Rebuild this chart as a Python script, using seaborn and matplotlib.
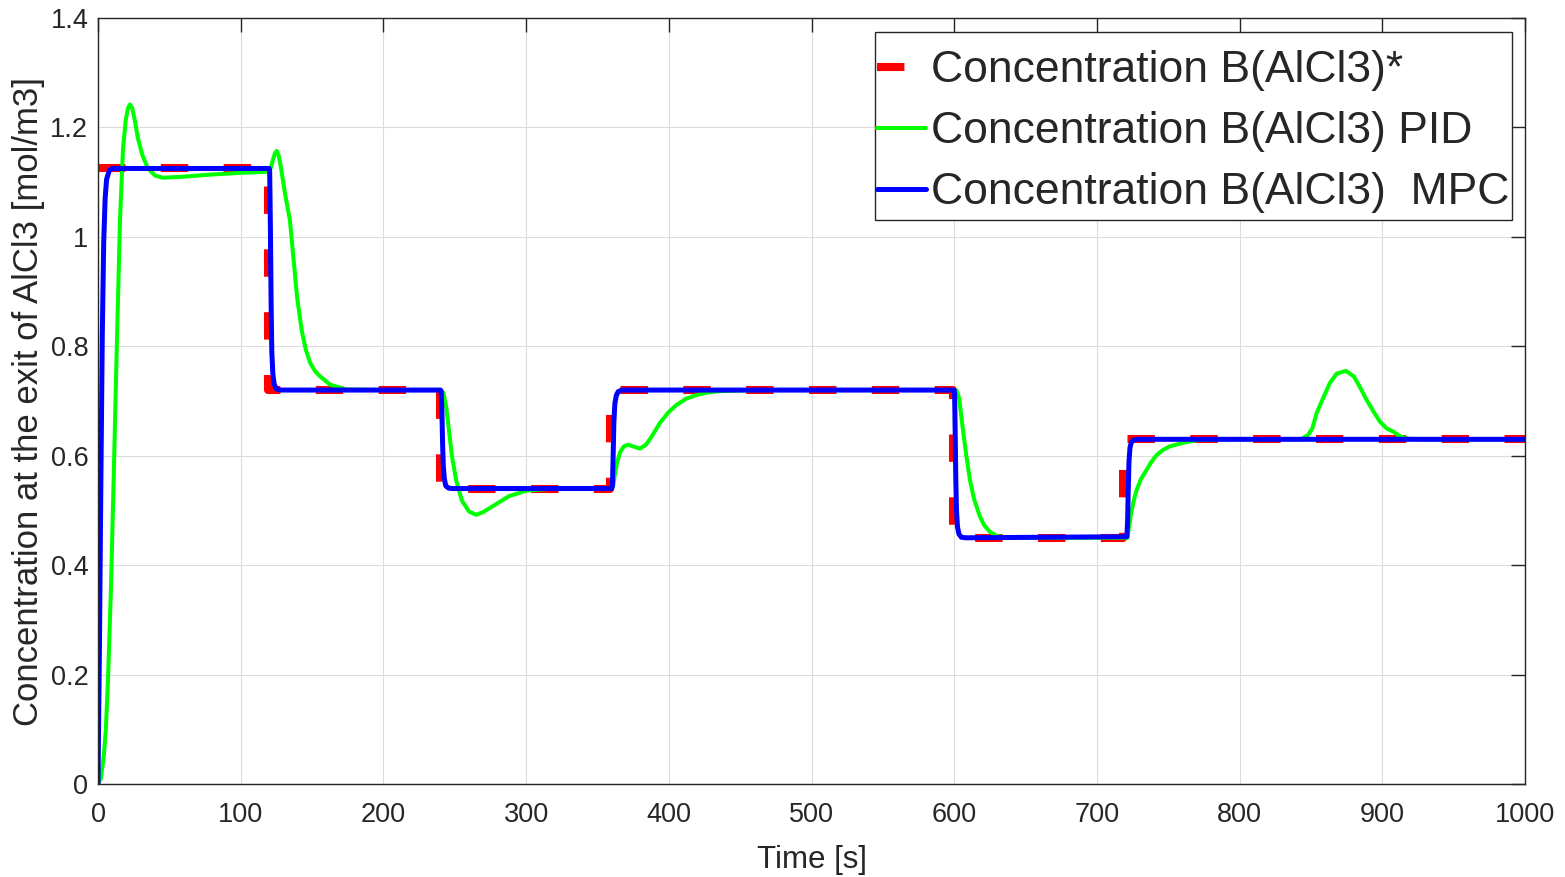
import matplotlib
matplotlib.use("Agg")
import matplotlib.pyplot as plt
from matplotlib.patches import Rectangle
import seaborn as sns
import pandas as pd

# setpoint (reference) concentration, step changes
sp_t = [0, 119, 239.5, 359, 599.5, 718.5, 1000]
sp_y = [1.125, 0.72, 0.54, 0.72, 0.45, 0.63, 0.63]

# PID response
pid_t = [0, 2, 4, 5.5, 7, 9, 11, 13, 15.4, 17.5, 19.5, 21, 22.4, 24, 26, 28, 31, 35, 40, 45.5, 60, 80, 100, 119,
         121, 122.5, 124, 125.2, 126.5, 128, 131, 134.5, 137, 139.5, 142.7, 145.5, 148.6, 152, 155.6, 162.6, 174, 200, 240,
         242, 244, 246, 248, 251, 255, 260, 265, 270, 278, 288, 300, 320, 360,
         361, 362.5, 364, 366, 368.5, 371.4, 375, 379.8, 384, 388, 393.8, 400, 405.5, 412, 419.5, 428, 436, 460, 601.5,
         603.5, 606, 608.5, 611, 614, 618, 621, 625, 630, 640, 721.5,
         722.5, 724, 725.8, 727.8, 731, 734.8, 738, 741.8, 746, 751, 758, 765, 772, 790, 843,
         848, 851, 854, 858.5, 863.3, 868, 874.5, 880, 884, 889, 894, 898.4, 903, 907.7, 912, 918, 930, 1000]
pid_y = [0, 0.01, 0.05, 0.1, 0.19, 0.35, 0.56, 0.78, 1.03, 1.16, 1.215, 1.235, 1.242, 1.235, 1.21, 1.18, 1.15, 1.125, 1.112, 1.108, 1.11, 1.114, 1.117, 1.119,
         1.125, 1.14, 1.153, 1.157, 1.15, 1.13, 1.08, 1.03, 0.96, 0.89, 0.83, 0.795, 0.77, 0.755, 0.745, 0.73, 0.721, 0.72, 0.72,
         0.715, 0.69, 0.645, 0.6, 0.555, 0.518, 0.498, 0.492, 0.497, 0.51, 0.526, 0.536, 0.54, 0.54,
         0.545, 0.57, 0.59, 0.607, 0.617, 0.62, 0.617, 0.613, 0.62, 0.635, 0.66, 0.68, 0.693, 0.704, 0.711, 0.716, 0.718, 0.72, 0.72,
         0.705, 0.65, 0.6, 0.556, 0.52, 0.489, 0.473, 0.461, 0.453, 0.45, 0.45,
         0.47, 0.495, 0.518, 0.537, 0.558, 0.574, 0.588, 0.601, 0.61, 0.617, 0.622, 0.626, 0.629, 0.63, 0.63,
         0.638, 0.65, 0.678, 0.705, 0.733, 0.75, 0.755, 0.745, 0.727, 0.702, 0.68, 0.662, 0.65, 0.644, 0.636, 0.631, 0.63, 0.63]

# MPC response
mpc_t = [0, 1, 2, 3, 4, 5, 6, 8, 10, 120,
         120.3, 120.8, 121.3, 121.8, 122.5, 123.5, 125, 128, 240,
         240.5, 241, 241.5, 242, 242.7, 243.7, 245.5, 248, 360,
         360.5, 361, 361.5, 362.2, 363.2, 364.5, 367, 600,
         600.3, 600.7, 601.1, 601.6, 602.3, 603.3, 605, 608, 721,
         721.5, 722, 722.5, 723.2, 724.2, 726, 729, 1000]
mpc_y = [0, 0.25, 0.55, 0.82, 0.99, 1.07, 1.105, 1.122, 1.125, 1.125,
         1.12, 1.02, 0.88, 0.79, 0.75, 0.73, 0.722, 0.72, 0.72,
         0.718, 0.68, 0.62, 0.58, 0.558, 0.545, 0.541, 0.54, 0.54,
         0.545, 0.6, 0.66, 0.695, 0.71, 0.717, 0.72, 0.72,
         0.71, 0.64, 0.56, 0.5, 0.47, 0.457, 0.451, 0.45, 0.452,
         0.48, 0.54, 0.59, 0.615, 0.625, 0.629, 0.63, 0.63]

labels = ["Concentration B(AlCl3)*", "Concentration B(AlCl3) PID", "Concentration B(AlCl3)  MPC"]

sns.set_theme(style="whitegrid")
plt.rcParams["font.family"] = ["Liberation Sans", "DejaVu Sans"]

W, H = 1565, 877
fig = plt.figure(figsize=(W / 100, H / 100), dpi=100)
ax = fig.add_axes([98 / W, 1 - 784 / H, (1525 - 98) / W, (784 - 18) / H])

sp_df = pd.DataFrame({"t": sp_t, "c": sp_y})
pid_df = pd.DataFrame({"t": pid_t, "c": pid_y})
mpc_df = pd.DataFrame({"t": mpc_t, "c": mpc_y})

sns.lineplot(data=sp_df, x="t", y="c", color="#ff0000", linewidth=5.8, estimator=None, sort=False,
             drawstyle="steps-post", label=labels[0], ax=ax)
ax.lines[-1].set_dashes((3.4, 4.4))
sns.lineplot(data=pid_df, x="t", y="c", color="#00ff00", linewidth=2.9, estimator=None, sort=False,
             label=labels[1], ax=ax)
sns.lineplot(data=mpc_df, x="t", y="c", color="#0000ff", linewidth=3.6, estimator=None, sort=False,
             label=labels[2], ax=ax)

ax.set_xlim(0, 1000)
ax.set_ylim(0, 1.4)
ax.set_xticks(range(0, 1001, 100))
ax.set_yticks([0, 0.2, 0.4, 0.6, 0.8, 1, 1.2, 1.4])
ax.set_yticklabels(["0", "0.2", "0.4", "0.6", "0.8", "1", "1.2", "1.4"])

ax.grid(True, color="#dcdcdc", linewidth=0.8)
for s in ax.spines.values():
    s.set_color("#262626")
    s.set_linewidth(1.0)
    s.set_visible(True)
ax.tick_params(axis="both", which="both", direction="in", length=10, width=1, color="#262626",
               labelsize=19.5, labelcolor="#262626", top=True, right=True)
ax.tick_params(axis="x", pad=13)
ax.tick_params(axis="y", pad=7)

ax.set_xlabel("Time [s]", fontsize=22.5, color="#262626", labelpad=12)
ax.set_ylabel("Concentration at the exit of AlCl3 [mol/m3]", fontsize=25, color="#262626", labelpad=3.5)

# legend without its own frame; a frame with more room top/bottom is drawn behind it
leg = ax.legend(loc="upper right", bbox_to_anchor=((1512 - 98) / 1427, (784 - 48) / 766),
                borderaxespad=0, fontsize=32, frameon=False,
                handlelength=1.1, handletextpad=0.13, borderpad=0.05, labelspacing=0.45)
fig.canvas.draw()
bb = leg.get_window_extent()
frame = Rectangle((bb.x0 / W, (bb.y0 - 5) / H), bb.width / W, (bb.height + 21) / H,
                  transform=fig.transFigure, facecolor="white", edgecolor="#262626",
                  linewidth=1.0, zorder=4.9, clip_on=False)
ax.add_patch(frame)

fig.savefig("out.png", dpi=100)
